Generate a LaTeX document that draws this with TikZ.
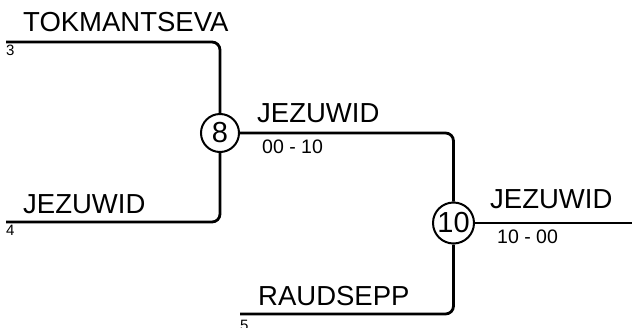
\documentclass[tikz,border=0pt]{standalone}
\usepackage{fontspec}
\setmainfont{Liberation Sans}
\begin{document}
\begin{tikzpicture}[x=1pt,y=-1pt,
  wire/.style={line width=2.8pt,rounded corners=8pt},
  player/.style={anchor=base west,inner sep=0pt,font=\fontsize{27.5}{27.5}\selectfont},
  seedno/.style={anchor=base west,inner sep=0pt,font=\fontsize{15}{15}\selectfont},
  scoretext/.style={anchor=base west,inner sep=0pt,font=\fontsize{19.5}{19.5}\selectfont},
  matchnode/.style={circle,draw,line width=2pt,inner sep=0pt,font=\fontsize{29}{29}\selectfont}]
\useasboundingbox (0,0) rectangle (632,327);
% match nodes
\node[matchnode,minimum size=38pt] (m8) at (220,133) {8};
\node[matchnode,minimum size=41pt] (m10) at (453.5,223) {10};
% start points
\coordinate (s3) at (6,42);
\coordinate (s4) at (6,222);
\coordinate (s5) at (240,314);
\coordinate (fin) at (632,223);
% connectors
\draw[wire] (s3) -| (m8);
\draw[wire] (s4) -| (m8);
\draw[wire] (m8) -| (m10);
\draw[wire] (s5) -| (m10);
\draw[wire] (m10) -- (fin);
% labels
\node[player] (n3) at (23,31) {TOKMANTSEVA};
\node[seedno] (k3) at (6,55) {3};
\node[player] (n4) at (23,213) {JEZUWID};
\node[seedno] (k4) at (6,235) {4};
\node[player] (n8) at (257,122) {JEZUWID};
\node[scoretext] (r8) at (262,153) {00 - 10};
\node[player] (n5) at (258,305) {RAUDSEPP};
\node[seedno] (k5) at (240,330) {5};
\node[player] (n10) at (490,208) {JEZUWID};
\node[scoretext] (r10) at (497,243) {10 - 00};
\end{tikzpicture}
\end{document}
